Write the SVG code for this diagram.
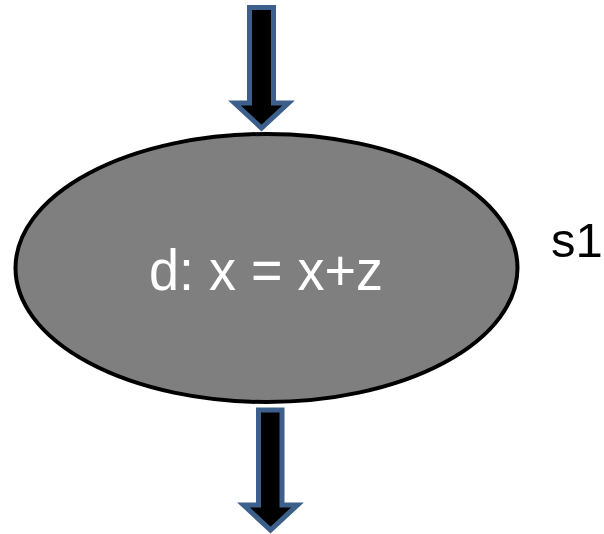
<svg xmlns="http://www.w3.org/2000/svg" width="604" height="534" viewBox="0 0 604 534">
<style>
.arrow{fill:#000;stroke:#3D5F8C;stroke-width:5;stroke-linejoin:miter}
.node{fill:#7F7F7F;stroke:#000;stroke-width:4}
.lbl{font-family:"Liberation Sans",Arial,sans-serif}
</style>
<rect width="604" height="534" fill="#fff"/>
<g id="connectors">
<path class="arrow" d="M249.5,7.5 H273.5 V103 H288.5 L261.5,128 L234.5,103 H249.5 Z"/>
<path class="arrow" d="M258.5,410 H282 V505 H297.5 L270.5,530 L243.5,505 H258.5 Z"/>
</g>
<g id="node-d">
<ellipse class="node" cx="266.5" cy="268" rx="251" ry="134"/>
<text class="lbl" x="149" y="290" font-size="58" fill="#fff" textLength="234" lengthAdjust="spacingAndGlyphs">d: x = x+z</text>
</g>
<g id="label-s1">
<text class="lbl" x="551" y="257" font-size="49" fill="#000">s1</text>
</g>
</svg>
